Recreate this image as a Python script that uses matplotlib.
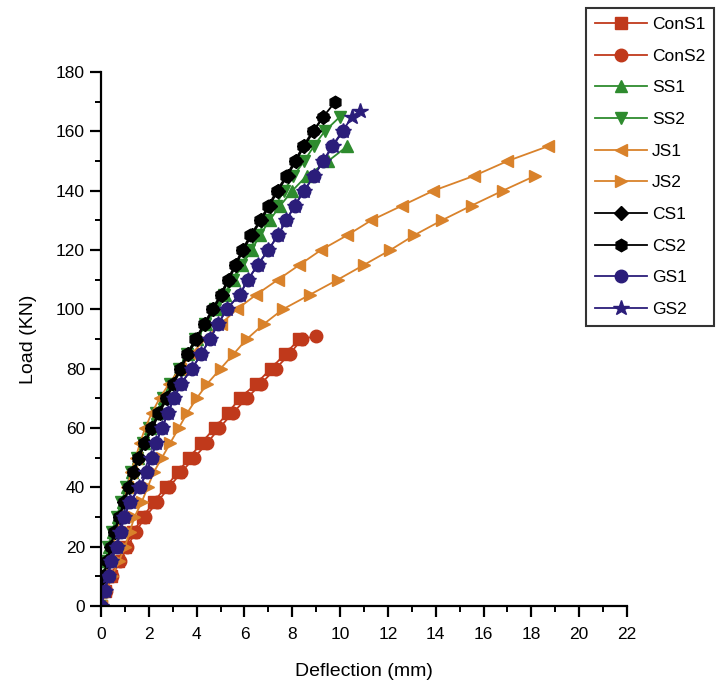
import matplotlib
matplotlib.use("Agg")
import matplotlib.pyplot as plt
from matplotlib.ticker import MultipleLocator

plt.rcParams['font.family'] = ['Liberation Sans', 'DejaVu Sans']

# load steps (kN) and deflections (mm)
cons1_load = [0, 5, 10, 15, 20, 25, 30, 35, 40, 45, 50, 55, 60, 65, 70, 75, 80, 85, 90]
cons1_def = [0, 0.15, 0.4, 0.7, 1.0, 1.35, 1.75, 2.2, 2.7, 3.2, 3.7, 4.2, 4.75, 5.3, 5.8, 6.5, 7.1, 7.7, 8.3]
cons2_load = [0, 5, 10, 15, 20, 25, 30, 35, 40, 45, 50, 55, 60, 65, 70, 75, 80, 85, 90, 91]
cons2_def = [0, 0.2, 0.45, 0.8, 1.1, 1.45, 1.85, 2.35, 2.85, 3.35, 3.9, 4.45, 4.95, 5.5, 6.1, 6.7, 7.3, 7.9, 8.4, 9.0]

ss1_load = [0, 5, 10, 15, 20, 25, 30, 35, 40, 45, 50, 55, 60, 65, 70, 75, 80, 85, 90, 95,
            100, 105, 110, 115, 120, 125, 130, 135, 140, 145, 150, 155]
ss1_def = [0, 0.05, 0.12, 0.22, 0.33, 0.5, 0.7, 0.9, 1.1, 1.3, 1.55, 1.8, 2.05, 2.35, 2.65, 2.95, 3.3, 3.65, 4.0, 4.4,
           4.8, 5.2, 5.55, 5.9, 6.3, 6.65, 7.05, 7.5, 8.0, 8.6, 9.5, 10.3]
ss2_load = [0, 5, 10, 15, 20, 25, 30, 35, 40, 45, 50, 55, 60, 65, 70, 75, 80, 85, 90, 95,
            100, 105, 110, 115, 120, 125, 130, 135, 140, 145, 150, 155, 160, 165]
ss2_def = [0, 0.05, 0.1, 0.2, 0.3, 0.45, 0.65, 0.85, 1.05, 1.25, 1.5, 1.75, 2.0, 2.3, 2.6, 2.9, 3.25, 3.6, 3.95, 4.35,
           4.75, 5.15, 5.5, 5.85, 6.2, 6.55, 6.9, 7.3, 7.65, 8.05, 8.5, 8.9, 9.35, 10.0]

js1_load = [0, 5, 10, 15, 20, 25, 30, 35, 40, 45, 50, 55, 60, 65, 70, 75, 80, 85, 90, 95,
            100, 105, 110, 115, 120, 125, 130, 135, 140, 145, 150, 155]
js1_def = [0, 0.1, 0.2, 0.35, 0.5, 0.65, 0.8, 0.95, 1.1, 1.25, 1.45, 1.63, 1.85, 2.12, 2.45, 2.85, 3.3, 3.8, 4.35, 5.0,
           5.68, 6.5, 7.4, 8.3, 9.2, 10.3, 11.3, 12.6, 13.9, 15.6, 17.0, 18.7]
js2_load = [0, 5, 10, 15, 20, 25, 30, 35, 40, 45, 50, 55, 60, 65, 70, 75, 80, 85, 90, 95,
            100, 105, 110, 115, 120, 125, 130, 135, 140, 145]
js2_def = [0, 0.2, 0.45, 0.75, 1.0, 1.2, 1.4, 1.7, 1.95, 2.2, 2.55, 2.9, 3.25, 3.6, 4.0, 4.45, 5.0, 5.55, 6.1, 6.8,
           7.6, 8.75, 9.9, 11.0, 12.1, 13.1, 14.25, 15.5, 16.8, 18.15]

cs1_load = [0, 5, 10, 15, 20, 25, 30, 35, 40, 45, 50, 55, 60, 65, 70, 75, 80, 85, 90, 95,
            100, 105, 110, 115, 120, 125, 130, 135, 140, 145, 150, 155, 160, 165]
cs1_def = [0, 0.06, 0.12, 0.27, 0.42, 0.58, 0.78, 0.98, 1.18, 1.38, 1.6, 1.85, 2.15, 2.45, 2.75, 3.05, 3.35, 3.65, 4.0, 4.35,
           4.7, 5.05, 5.35, 5.65, 5.95, 6.3, 6.7, 7.05, 7.4, 7.8, 8.15, 8.5, 8.9, 9.3]
cs2_load = [0, 5, 10, 15, 20, 25, 30, 35, 40, 45, 50, 55, 60, 65, 70, 75, 80, 85, 90, 95,
            100, 105, 110, 115, 120, 125, 130, 135, 140, 145, 150, 155, 160, 165, 170]
cs2_def = [0, 0.05, 0.1, 0.25, 0.4, 0.55, 0.75, 0.95, 1.15, 1.35, 1.55, 1.8, 2.1, 2.4, 2.7, 3.0, 3.3, 3.6, 3.95, 4.3,
           4.65, 5.0, 5.3, 5.6, 5.9, 6.25, 6.65, 7.0, 7.35, 7.75, 8.1, 8.45, 8.85, 9.3, 9.8]

gs1_load = [0, 5, 10, 15, 20, 25, 30, 35, 40, 45, 50, 55, 60, 65, 70, 75, 80, 85, 90, 95,
            100, 105, 110, 115, 120, 125, 130, 135, 140, 145, 150, 155, 160]
gs1_def = [0, 0.17, 0.32, 0.42, 0.66, 0.82, 0.98, 1.22, 1.62, 1.92, 2.12, 2.3, 2.55, 2.8, 3.05, 3.35, 3.8, 4.2, 4.55, 4.9,
           5.25, 5.8, 6.15, 6.55, 7.0, 7.4, 7.75, 8.1, 8.5, 8.9, 9.3, 9.65, 10.1]
gs2_load = [0, 5, 10, 15, 20, 25, 30, 35, 40, 45, 50, 55, 60, 65, 70, 75, 80, 85, 90, 95,
            100, 105, 110, 115, 120, 125, 130, 135, 140, 145, 150, 155, 160, 165, 167]
gs2_def = [0, 0.15, 0.3, 0.4, 0.65, 0.8, 0.95, 1.2, 1.6, 1.9, 2.1, 2.3, 2.55, 2.8, 3.05, 3.35, 3.8, 4.2, 4.55, 4.9,
           5.25, 5.8, 6.15, 6.55, 7.0, 7.4, 7.75, 8.1, 8.5, 8.9, 9.3, 9.7, 10.1, 10.5, 10.85]

red = '#C0391B'
green = '#2E8B2E'
orange = '#D9822B'
navy = '#2B1D7A'

series = [
    ('ConS1', cons1_def, cons1_load, red, 's'),
    ('ConS2', cons2_def, cons2_load, red, 'o'),
    ('SS1', ss1_def, ss1_load, green, '^'),
    ('SS2', ss2_def, ss2_load, green, 'v'),
    ('JS1', js1_def, js1_load, orange, '<'),
    ('JS2', js2_def, js2_load, orange, '>'),
    ('CS1', cs1_def, cs1_load, 'black', 'D'),
    ('CS2', cs2_def, cs2_load, 'black', 'h'),
    ('GS1', gs1_def, gs1_load, navy, 'o'),
    ('GS2', gs2_def, gs2_load, navy, '*'),
]

fig = plt.figure(figsize=(7.17, 6.97), dpi=100)
ax = fig.add_axes([0.1409, 0.1306, 0.7336, 0.766])

for name, x, y, c, m in series:
    ms = 9
    if m == '*':
        ms = 11.5
    elif m == 'D':
        ms = 7.5
    ax.plot(x, y, color=c, marker=m, markersize=ms, linewidth=1.3, label=name)

ax.set_xlim(0, 22)
ax.set_ylim(0, 180)
ax.xaxis.set_major_locator(MultipleLocator(2))
ax.xaxis.set_minor_locator(MultipleLocator(1))
ax.yaxis.set_major_locator(MultipleLocator(20))
ax.yaxis.set_minor_locator(MultipleLocator(10))
ax.spines['top'].set_visible(False)
ax.spines['right'].set_visible(False)
ax.spines['left'].set_linewidth(1.6)
ax.spines['bottom'].set_linewidth(1.6)
ax.tick_params(which='major', direction='out', length=8, width=1.6, labelsize=12.5)
ax.tick_params(axis='x', which='major', pad=7)
ax.tick_params(which='minor', direction='out', length=4, width=1.4)
for sp in ['left', 'bottom']:
    ax.spines[sp].set_clip_on(False)

ax.set_xlabel('Deflection (mm)', fontsize=14, labelpad=15)
ax.set_ylabel('Load (KN)', fontsize=14, labelpad=14)

leg = fig.legend(loc='upper right', bbox_to_anchor=(0.996, 0.988), fontsize=12.5,
                 frameon=True, fancybox=False, edgecolor='black', handlelength=3.0,
                 labelspacing=0.95, borderpad=0.5, handletextpad=0.3, borderaxespad=0)
leg.get_frame().set_linewidth(1.5)

fig.savefig('out.png', dpi=100)
